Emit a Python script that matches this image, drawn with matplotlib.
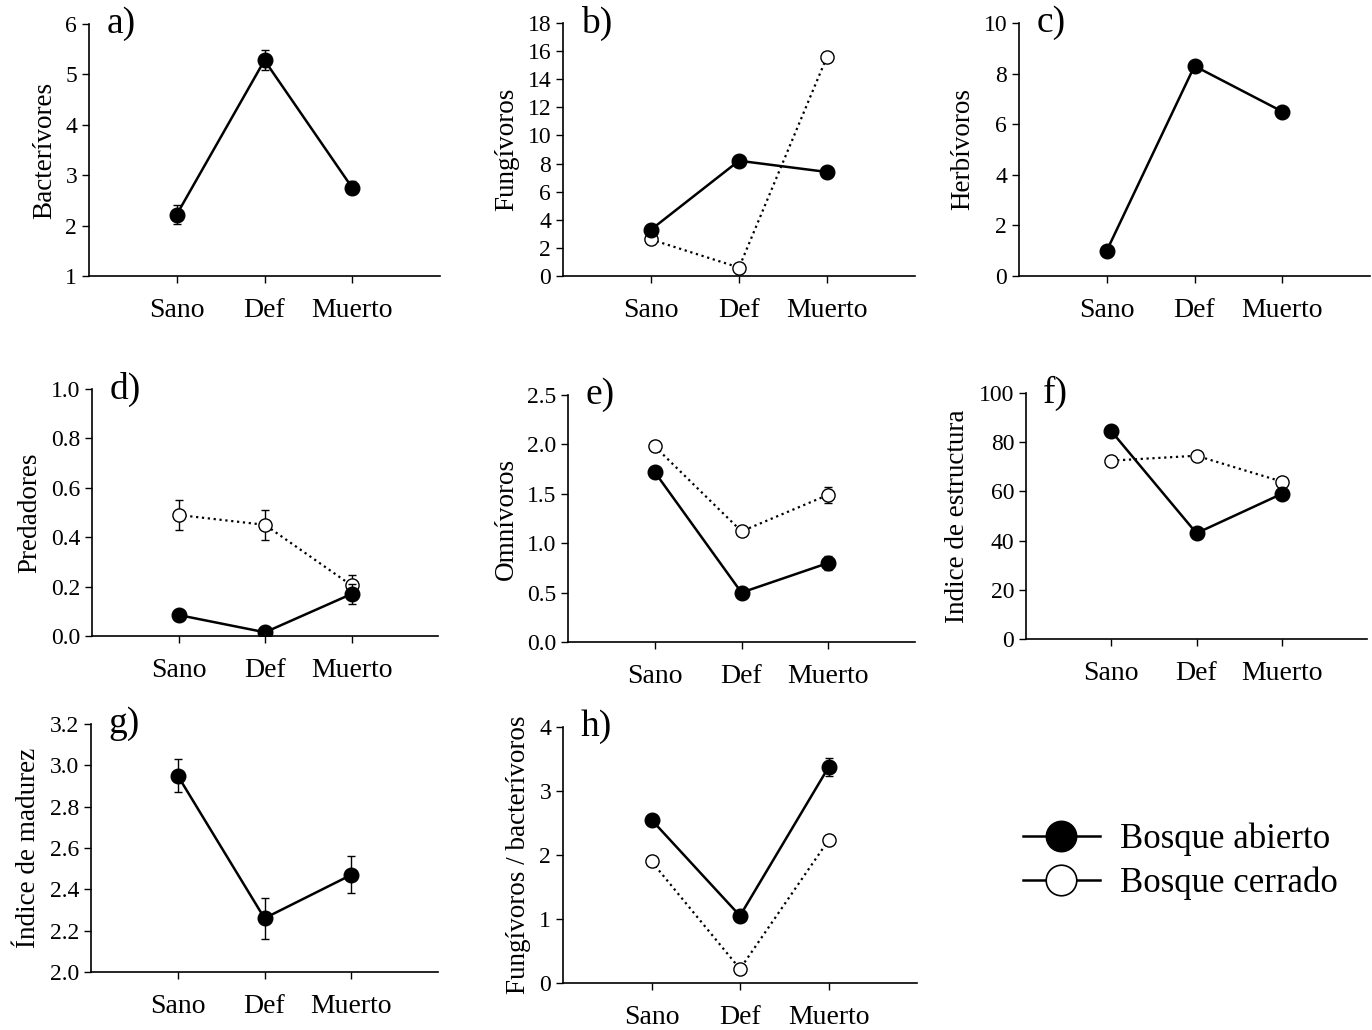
import numpy as np
import matplotlib.pyplot as plt
from matplotlib.lines import Line2D

plt.rcParams['font.family'] = ['Liberation Serif', 'DejaVu Serif']

categorias = ["Sano", "Def", "Muerto"]

# (media, error) por panel; None = sin serie
bact_abierto = [2.22, 5.28, 2.75]
bact_abierto_err = [0.18, 0.2, 0.13]

fung_abierto = [3.3, 8.2, 7.4]
fung_abierto_err = [0.2, 0.2, 0.2]
fung_cerrado = [2.6, 0.6, 15.6]
fung_cerrado_err = [0.1, 0.1, 0.1]

herb_abierto = [1.0, 8.3, 6.5]
herb_abierto_err = [0.1, 0.1, 0.1]

pred_abierto = [0.085, 0.015, 0.17]
pred_abierto_err = [0.01, 0.01, 0.04]
pred_cerrado = [0.49, 0.45, 0.205]
pred_cerrado_err = [0.06, 0.06, 0.04]

omni_abierto = [1.72, 0.50, 0.80]
omni_abierto_err = [0.05, 0.04, 0.07]
omni_cerrado = [1.98, 1.12, 1.49]
omni_cerrado_err = [0.05, 0.03, 0.08]

estr_abierto = [84.5, 43.0, 59.0]
estr_abierto_err = [1.0, 1.0, 1.0]
estr_cerrado = [72.5, 74.5, 64.0]
estr_cerrado_err = [1.0, 1.0, 1.0]

madu_abierto = [2.95, 2.26, 2.47]
madu_abierto_err = [0.08, 0.10, 0.09]

ratio_abierto = [2.55, 1.05, 3.37]
ratio_abierto_err = [0.07, 0.05, 0.14]
ratio_cerrado = [1.90, 0.22, 2.23]
ratio_cerrado_err = [0.03, 0.03, 0.03]

paneles = [
    ("a)", "Bacterívores", (1, 6), [1, 2, 3, 4, 5, 6], "{:g}",
     bact_abierto, bact_abierto_err, None, None),
    ("b)", "Fungívoros", (0, 18), list(range(0, 19, 2)), "{:g}",
     fung_abierto, fung_abierto_err, fung_cerrado, fung_cerrado_err),
    ("c)", "Herbívoros", (0, 10), list(range(0, 11, 2)), "{:g}",
     herb_abierto, herb_abierto_err, None, None),
    ("d)", "Predadores", (0, 1), [0, 0.2, 0.4, 0.6, 0.8, 1.0], "{:.1f}",
     pred_abierto, pred_abierto_err, pred_cerrado, pred_cerrado_err),
    ("e)", "Omnívoros", (0, 2.5), [0, 0.5, 1.0, 1.5, 2.0, 2.5], "{:.1f}",
     omni_abierto, omni_abierto_err, omni_cerrado, omni_cerrado_err),
    ("f)", "Indice de estructura", (0, 100), list(range(0, 101, 20)), "{:g}",
     estr_abierto, estr_abierto_err, estr_cerrado, estr_cerrado_err),
    ("g)", "Índice de madurez", (2.0, 3.2), [2.0, 2.2, 2.4, 2.6, 2.8, 3.0, 3.2], "{:.1f}",
     madu_abierto, madu_abierto_err, None, None),
    ("h)", "Fungívoros / bacterívoros", (0, 4), [0, 1, 2, 3, 4], "{:g}",
     ratio_abierto, ratio_abierto_err, ratio_cerrado, ratio_cerrado_err),
]

# posiciones en pixeles: izquierda, arriba, derecha, abajo
cajas = [
    (89, 24, 440, 276), (563, 23, 915, 276), (1019, 23, 1370, 276),
    (92, 389, 438, 636), (568, 395, 915, 642), (1026, 393, 1367, 639),
    (91, 724, 438, 972), (563, 727, 917, 983),
]

W, H = 1372, 1030
fig = plt.figure(figsize=(W / 100, H / 100), dpi=100)

x = np.arange(len(categorias))
for (letra, ylab, ylim, yt, fmt, ab, ab_e, ce, ce_e), (l, t, r, b) in zip(paneles, cajas):
    ax = fig.add_axes([l / W, 1 - b / H, (r - l) / W, (b - t) / H])
    if ce is not None:
        ax.errorbar(x, ce, yerr=ce_e, color="black", ls=":", lw=1.6,
                    marker="o", ms=9.5, mfc="white", mec="black", mew=1.0,
                    capsize=3, elinewidth=1, zorder=2)
    ax.errorbar(x, ab, yerr=ab_e, color="black", ls="-", lw=1.8,
                marker="o", ms=10.5, mfc="black", mec="black",
                capsize=3, elinewidth=1, zorder=3)
    ax.set_xlim(-1, 3)
    ax.set_ylim(*ylim)
    ax.set_yticks(yt)
    ax.set_yticklabels([fmt.format(v) for v in yt])
    ax.set_xticks(x)
    ax.set_xticklabels(categorias, fontsize=20)
    ax.tick_params(axis="y", labelsize=17, length=5, width=1, direction="out")
    ax.tick_params(axis="x", length=5, width=1, direction="out", pad=11)
    ax.spines["top"].set_visible(False)
    ax.spines["right"].set_visible(False)
    ax.spines["left"].set_linewidth(1.2)
    ax.spines["bottom"].set_linewidth(1.2)
    ax.set_ylabel(ylab, fontsize=19.5, labelpad=6)
    ax.text(0.05, 1.0, letra, transform=ax.transAxes, fontsize=27,
            ha="left", va="center", clip_on=False)

handles = [
    Line2D([], [], color="black", lw=1.8, marker="o", ms=22,
           mfc="black", mec="black"),
    Line2D([], [], color="black", lw=1.8, marker="o", ms=22,
           mfc="white", mec="black", mew=1.2),
]
fig.legend(handles, ["Bosque abierto", "Bosque cerrado"],
           loc="upper left", bbox_to_anchor=(992 / W, 1 - 791 / H),
           frameon=False, fontsize=25, handlelength=2.2,
           handletextpad=0.6, labelspacing=0.3)

fig.savefig("out.png", dpi=100)
